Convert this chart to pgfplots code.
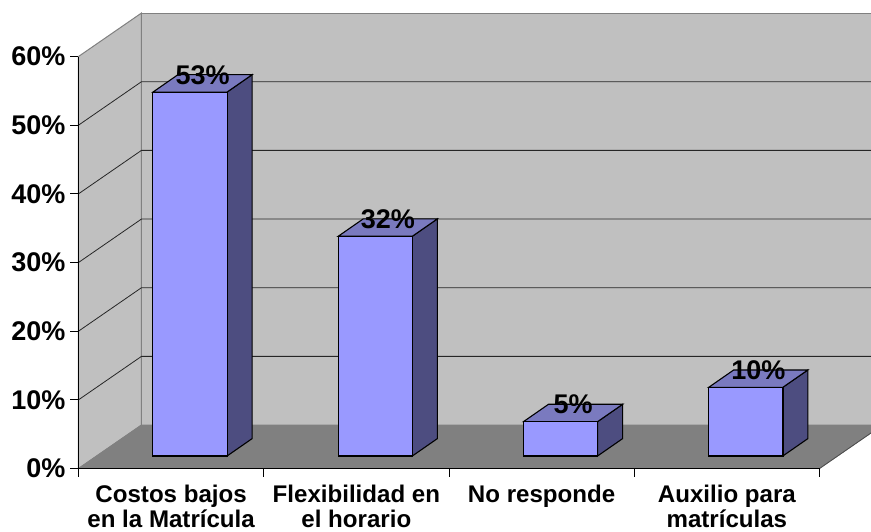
\documentclass[border=0pt]{standalone}
\usepackage{pgfplots}
\pgfplotsset{compat=1.18}
\usepackage{fontspec}
\setmainfont{Liberation Sans}
\definecolor{wallc}{HTML}{C0C0C0}
\definecolor{floorc}{HTML}{808080}
\definecolor{frontc}{HTML}{9999FF}
\definecolor{topc}{HTML}{7A7ABF}
\definecolor{sidec}{HTML}{4D4D80}
\pgfplotstableread{
idx value
0 53
1 32
2 5
3 10
}\bardata
\begin{document}
\begin{tikzpicture}[x=1pt,y=1pt]
\clip[use as bounding box] (0,0) rectangle (871,531);
% walls, floor, grid and axes
\begin{axis}[
  at={(78.5pt,62.5pt)}, anchor=south west,
  scale only axis, width=741pt, height=412pt,
  xmin=0, xmax=4, ymin=0, ymax=60,
  clip=false, axis on top,
  axis x line*=bottom, axis y line*=left,
  axis line style={-, black, line width=1pt},
  tick align=outside, major tick length=8pt,
  tick style={black, line width=0.8pt},
  xtick={0,1,2,3,4}, xticklabels={},
  ytick={0,10,20,30,40,50,60},
  yticklabels={0\%,10\%,20\%,30\%,40\%,50\%,60\%},
  y tick label style={font=\bfseries\fontsize{27}{27}\selectfont, xshift=-1.5pt},
  extra x ticks={0.5,1.5,2.5,3.5},
  extra x tick labels={Costos bajos\\en la Matrícula,Flexibilidad en\\el horario,No responde\\\phantom{x},Auxilio para\\matrículas},
  extra x tick style={major tick length=0pt,
    tick label style={font=\bfseries\fontsize{24.1}{25}\selectfont, align=center, anchor=north, yshift=-13pt}},
]
\addplot[fill=wallc, draw=floorc, line width=1pt] coordinates {(0,0)(0,60)(0.34,66.33)(0.34,6.33)} -- cycle;
\addplot[fill=wallc, draw=floorc, line width=1pt] coordinates {(0.34,6.33)(0.34,66.33)(4.4,66.33)(4.4,6.33)} -- cycle;
\addplot[fill=floorc, draw=floorc, line width=0.8pt] coordinates {(0,0)(4,0)(4.34,6.33)(0.34,6.33)} -- cycle;
\addplot[draw=black!70, line width=0.8pt] coordinates {(4,0)(4.34,6.33)};
\addplot[black!85, line width=0.8pt] coordinates {(0,10)(0.34,16.33)(4.4,16.33)};
\addplot[black!85, line width=0.8pt] coordinates {(0,20)(0.34,26.33)(4.4,26.33)};
\addplot[black!85, line width=0.8pt] coordinates {(0,30)(0.34,36.33)(4.4,36.33)};
\addplot[black!85, line width=0.8pt] coordinates {(0,40)(0.34,46.33)(4.4,46.33)};
\addplot[black!85, line width=0.8pt] coordinates {(0,50)(0.34,56.33)(4.4,56.33)};
\end{axis}
% bars: the baseline sits on the floor, so this axis starts there
\begin{axis}[
  at={(78.5pt,75pt)}, anchor=south west,
  scale only axis, width=741pt, height=412pt,
  xmin=-0.602, xmax=3.398, ymin=0, ymax=60,
  clip=false, hide axis,
]
% side faces
\addplot[fill=sidec, draw=black, line width=1.1pt] coordinates {(0.2,0)(0.335,2.53)(0.335,55.53)(0.2,53)} -- cycle;
\addplot[fill=sidec, draw=black, line width=1.1pt] coordinates {(1.2,0)(1.335,2.53)(1.335,34.53)(1.2,32)} -- cycle;
\addplot[fill=sidec, draw=black, line width=1.1pt] coordinates {(2.2,0)(2.335,2.53)(2.335,7.53)(2.2,5)} -- cycle;
\addplot[fill=sidec, draw=black, line width=1.1pt] coordinates {(3.2,0)(3.335,2.53)(3.335,12.53)(3.2,10)} -- cycle;
% top faces
\addplot[fill=topc, draw=black, line width=1.1pt] coordinates {(-0.2,53)(0.2,53)(0.335,55.53)(-0.065,55.53)} -- cycle;
\addplot[fill=topc, draw=black, line width=1.1pt] coordinates {(0.8,32)(1.2,32)(1.335,34.53)(0.935,34.53)} -- cycle;
\addplot[fill=topc, draw=black, line width=1.1pt] coordinates {(1.8,5)(2.2,5)(2.335,7.53)(1.935,7.53)} -- cycle;
\addplot[fill=topc, draw=black, line width=1.1pt] coordinates {(2.8,10)(3.2,10)(3.335,12.53)(2.935,12.53)} -- cycle;
% front faces with value labels
\addplot[ybar, bar width=74.4pt, bar shift=0pt, fill=frontc, draw=black, line width=1.1pt,
  point meta=y,
  nodes near coords={\pgfmathprintnumber[assume math mode=true]{\pgfplotspointmeta}\%},
  every node near coord/.style={anchor=center, xshift=12.5pt, yshift=17pt, black,
    font=\bfseries\fontsize{27}{27}\selectfont},
] table[x=idx, y=value] {\bardata};
\end{axis}
\end{tikzpicture}
\end{document}
